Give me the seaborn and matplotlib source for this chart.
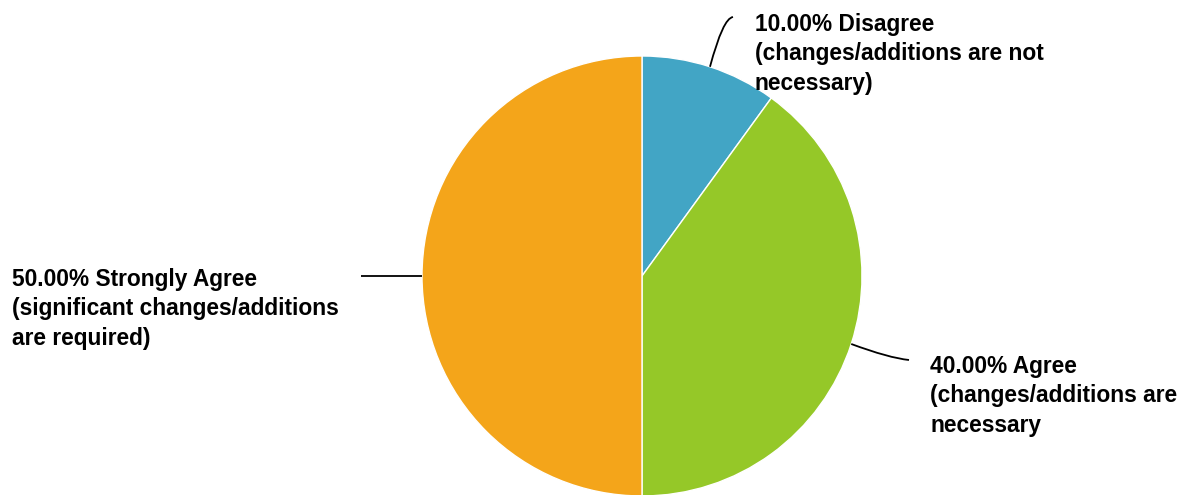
import numpy as np
import matplotlib
matplotlib.use("Agg")
import matplotlib.pyplot as plt
from matplotlib.path import Path
from matplotlib.patches import PathPatch
from matplotlib.font_manager import FontProperties
import seaborn as sns

# Survey responses
categories = ["Disagree", "Agree", "Strongly Agree"]
shares = [10.0, 40.0, 50.0]
descriptions = [
    "(changes/additions are not\nnecessary)",
    "(changes/additions are\nnecessary",
    "(significant changes/additions\nare required)",
]
colors = ["#42A5C5", "#95C828", "#F4A51A"]

sns.set_theme(style="white")
plt.rcParams["font.family"] = ["Liberation Sans", "DejaVu Sans"]

W, H = 1185, 495
fig = plt.figure(figsize=(W / 100, H / 100), dpi=100)
ax = fig.add_axes([0, 0, 1, 1])

cx, cy, R = 642, H - 276, 220
wedges, _ = ax.pie(
    shares, colors=sns.color_palette(colors), startangle=90, counterclock=False,
    center=(cx, cy), radius=R, frame=True,
    wedgeprops=dict(edgecolor="white", linewidth=1.0),
)
ax.set_xlim(0, W)
ax.set_ylim(0, H)
ax.set_aspect("equal")
ax.axis("off")

label_font = FontProperties(family=["Liberation Sans", "DejaVu Sans"], weight="bold",
                            stretch="normal", size=16.4)

# label placement: text x, text top y (px from top), leader end, bend control point
layout = [
    dict(tx=755, ty=13, end=(733, 17), ctrl=(723, 18)),
    dict(tx=930, ty=355, end=(909, 360), ctrl=(889, 358)),
    dict(tx=12, ty=268, end=(361, 276), ctrl=None),
]

for w, cat, val, desc, lay in zip(wedges, categories, shares, descriptions, layout):
    mid = np.deg2rad((w.theta1 + w.theta2) / 2)
    anchor = (cx + R * np.cos(mid), cy + R * np.sin(mid))
    ex, ey = lay["end"][0], H - lay["end"][1]
    if lay["ctrl"] is None:
        verts = [anchor, (ex, ey)]
        codes = [Path.MOVETO, Path.LINETO]
    else:
        c = (lay["ctrl"][0], H - lay["ctrl"][1])
        verts = [anchor, c, (ex, ey)]
        codes = [Path.MOVETO, Path.CURVE3, Path.CURVE3]
    ax.add_patch(PathPatch(Path(verts, codes), fill=False, edgecolor="black", lw=1.3))
    ax.text(lay["tx"], H - lay["ty"], f"{val:.2f}% {cat}\n{desc}",
            ha="left", va="top", fontproperties=label_font,
            color="black", linespacing=1.36)

fig.savefig("out.png", dpi=100)
